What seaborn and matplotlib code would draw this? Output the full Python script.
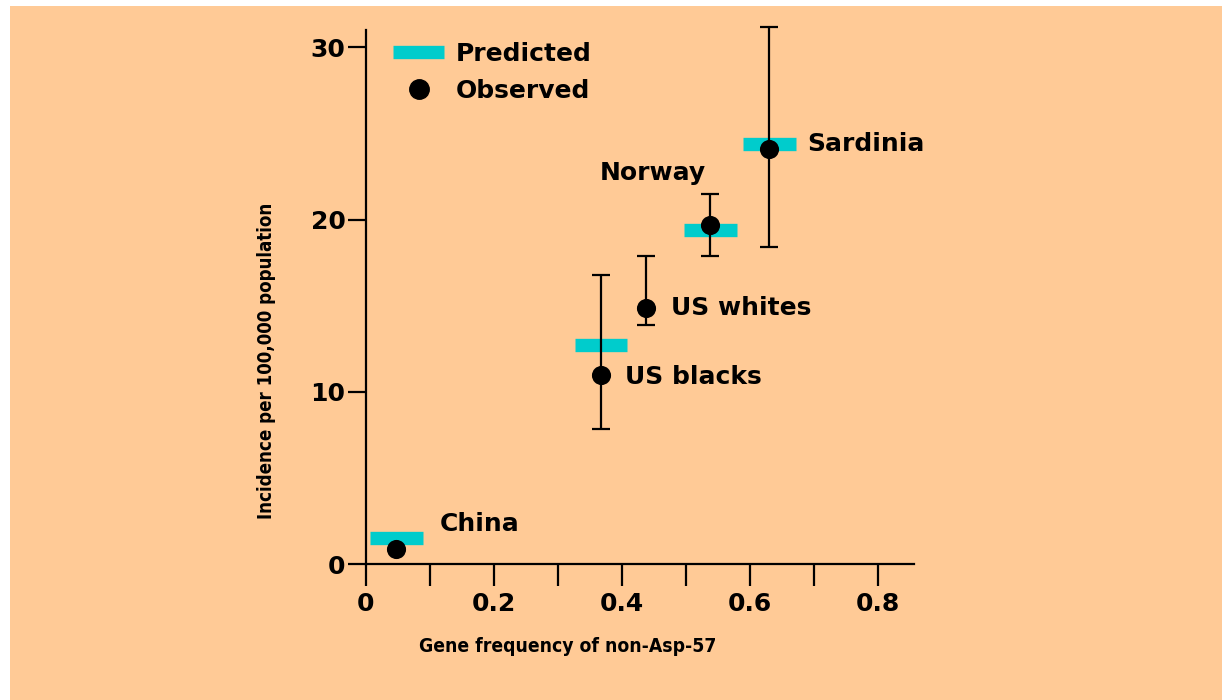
import numpy as np
import pandas as pd
import matplotlib
matplotlib.use("Agg")
import matplotlib.pyplot as plt
from matplotlib.lines import Line2D
from matplotlib.patches import Rectangle
import seaborn as sns

# ---- data ----
countries = ["China", "US blacks", "US whites", "Norway", "Sardinia"]
gene_freq = [0.048, 0.367, 0.438, 0.538, 0.630]
observed = [0.9, 11.0, 14.85, 19.7, 24.1]
err_low = [np.nan, 7.85, 13.9, 17.9, 18.4]
err_high = [np.nan, 16.8, 17.9, 21.5, 31.2]
predicted = [1.5, 12.7, np.nan, 19.4, 24.4]

x_ticks_major = [0, 0.2, 0.4, 0.6, 0.8]
x_tick_labels = ["0", "0.2", "0.4", "0.6", "0.8"]
x_ticks_minor = [0.1, 0.3, 0.5, 0.7]
y_ticks = [0, 10, 20, 30]
y_tick_labels = ["0", "10", "20", "30"]

# ---- styles ----
PEACH = "#FFCA96"
CYAN = "#00CCCC"
BAR_HALF = 0.041
label_offsets_pt = {  # text offset from observed point (points)
    "China": (31, 12.7),
    "US blacks": (17.5, -7),
    "US whites": (17.7, -5),
    "Norway": (-79.4, 32.4),
    "Sardinia": (27.4, -1.4),
}

sns.set_theme(style="ticks")
plt.rcParams["font.family"] = ["DejaVu Sans"]
plt.rcParams["font.weight"] = "bold"
for k in ["text.color", "axes.labelcolor", "xtick.color", "ytick.color",
          "xtick.labelcolor", "ytick.labelcolor"]:
    plt.rcParams[k] = "black"

df = pd.DataFrame({
    "country": countries,
    "gene_freq": gene_freq,
    "observed": observed,
    "err_low": err_low,
    "err_high": err_high,
    "predicted": predicted,
})

fig = plt.figure(figsize=(12.22, 7.0), dpi=100, facecolor="white")
fig.patches.append(Rectangle((10 / 1222, 0), 1, 694 / 700, transform=fig.transFigure,
                             facecolor=PEACH, edgecolor="none", zorder=-10))
ax = fig.add_axes([365.7 / 1222, 135.7 / 700, 548.3 / 1222, 534.3 / 700])
ax.set_facecolor("none")
ax.set_zorder(5)

# predicted bars
pdf = df.dropna(subset=["predicted"])
ax.hlines(pdf["predicted"], pdf["gene_freq"] - BAR_HALF, pdf["gene_freq"] + BAR_HALF,
          colors=CYAN, linewidth=9.6, zorder=2)

# error bars
edf = df.dropna(subset=["err_low"])
ax.errorbar(edf["gene_freq"], edf["observed"],
            yerr=[edf["observed"] - edf["err_low"], edf["err_high"] - edf["observed"]],
            fmt="none", ecolor="black", elinewidth=1.6, capsize=6.8, capthick=1.6,
            zorder=3, clip_on=False)

# observed dots
sns.scatterplot(data=df, x="gene_freq", y="observed", ax=ax, color="black",
                s=190, marker="o", edgecolor="black", linewidth=0, zorder=4,
                legend=False, clip_on=False)

# labels
for _, r in df.iterrows():
    dx, dy = label_offsets_pt[r["country"]]
    ax.annotate(r["country"], (r["gene_freq"], r["observed"]), xytext=(dx, dy),
                textcoords="offset points", ha="left", va="baseline",
                fontsize=18, fontweight="bold", color="black")

# axes
ax.set_xlim(0, 0.856)
ax.set_ylim(0, 31)
for s in ["top", "right"]:
    ax.spines[s].set_visible(False)
for s in ["left", "bottom"]:
    ax.spines[s].set_linewidth(1.6)
    ax.spines[s].set_color("black")
ax.set_xticks(x_ticks_major)
ax.set_xticklabels(x_tick_labels)
ax.set_xticks(x_ticks_minor, minor=True)
ax.set_yticks(y_ticks)
ax.set_yticklabels(y_tick_labels)
ax.tick_params(axis="x", which="both", direction="out", length=16, width=1.6,
               color="black", labelcolor="black", pad=4, labelsize=18)
ax.tick_params(axis="y", which="both", direction="out", length=13, width=1.6,
               color="black", labelcolor="black", pad=1.5, labelsize=18)
for t in ax.get_xticklabels() + ax.get_yticklabels():
    t.set_fontweight("bold")

narrow = ["Liberation Sans Narrow", "DejaVu Sans"]
ax.set_xlabel("Gene frequency of non-Asp-57", fontsize=13.9, fontweight="bold",
              family=narrow, fontstretch="condensed", color="black")
ax.set_ylabel("Incidence per 100,000 population", fontsize=13.4, fontweight="bold",
              family=narrow, fontstretch="condensed", color="black")
ax.xaxis.set_label_coords(0.369, -0.153)
ax.xaxis.label.set_va("center")
ax.yaxis.set_label_coords(-0.1818, 0.3814)
ax.yaxis.label.set_va("center")

# legend
handles = [Line2D([0], [0], color=CYAN, lw=9.6, solid_capstyle="butt"),
           Line2D([0], [0], marker="o", color="black", ls="none", markersize=14)]
leg = ax.legend(handles, ["Predicted", "Observed"], loc="upper left",
                bbox_to_anchor=(0.0498, 0.978), frameon=False, borderpad=0,
                borderaxespad=0, handlelength=2.04, handletextpad=0.48,
                labelspacing=0.52, prop={"size": 18, "weight": "bold"})
for t in leg.get_texts():
    t.set_color("black")

fig.savefig("out.png", dpi=100, facecolor=fig.get_facecolor())
